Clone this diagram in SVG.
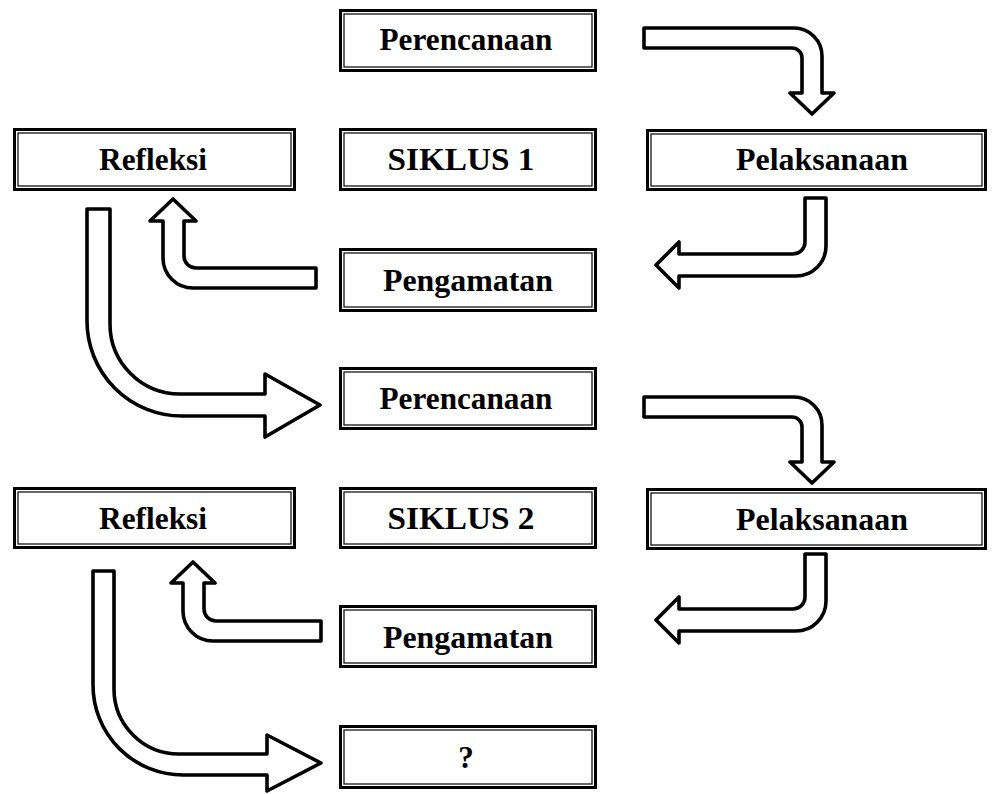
<svg xmlns="http://www.w3.org/2000/svg" width="992" height="794" viewBox="0 0 992 794">
<style>
.ob{fill:#fff;stroke:#000;stroke-width:3}
.ib{fill:none;stroke:#000;stroke-width:1.2}
.t{font-family:"Liberation Serif","Times New Roman",Times,serif;font-weight:700;font-size:31px;text-anchor:middle;fill:#000}
.arr{fill:#fff;stroke:#000;stroke-width:3.6;stroke-linejoin:round}
</style>
<rect width="992" height="794" fill="#fff"/>
<g id="connectors">
<path class="arr" d="M644,28 H794 A28,28 0 0 1 822,56 V93 H834 L812,114 L790,93 H802 V58 A10,10 0 0 0 792,48 H644 Z"/>
<path class="arr" d="M805,198 H826 V246 A30,30 0 0 1 796,276 H679 V288 L656,265 L679,242 V254 H793 A12,12 0 0 0 805,242 Z"/>
<path class="arr" d="M316,268 V288 H193 A30,30 0 0 1 163,258 V221 H150 L173,199 L196,221 H184 V256 A12,12 0 0 0 196,268 Z"/>
<path class="arr" d="M87,209 H110 V324 A70,70 0 0 0 180,394 H265 V374 L320,405 L265,437 V416 H182 A95,95 0 0 1 87,321 Z"/>
<path class="arr" d="M644,397 H794 A28,28 0 0 1 822,425 V462 H834 L812,483 L790,462 H802 V427 A10,10 0 0 0 792,417 H644 Z"/>
<path class="arr" d="M805,554 H826 V601 A30,30 0 0 1 796,631 H679 V643 L656,620 L679,597 V609 H793 A12,12 0 0 0 805,597 Z"/>
<path class="arr" d="M321,621 V641 H213 A30,30 0 0 1 183,611 V583 H171 L193,562 L215,583 H204 V609 A12,12 0 0 0 216,621 Z"/>
<path class="arr" d="M93,571 H114 V689 A65,65 0 0 0 179,754 H267 V735 L321,763 L267,791 V775 H183 A90,90 0 0 1 93,685 Z"/>
</g>
<g id="perencanaan1">
<rect class="ob" x="340.5" y="10.5" width="255" height="60"/>
<rect class="ib" x="344" y="14" width="248" height="53"/>
<text class="t" x="466" y="50" textLength="173" lengthAdjust="spacingAndGlyphs">Perencanaan</text>
</g>
<g id="refleksi1">
<rect class="ob" x="14.5" y="129.5" width="280" height="60"/>
<rect class="ib" x="18" y="133" width="273" height="53"/>
<text class="t" x="153" y="170" textLength="108" lengthAdjust="spacingAndGlyphs">Refleksi</text>
</g>
<g id="siklus1">
<rect class="ob" x="340.5" y="129.5" width="255" height="60"/>
<rect class="ib" x="344" y="133" width="248" height="53"/>
<text class="t" x="461" y="170" textLength="147" lengthAdjust="spacingAndGlyphs">SIKLUS 1</text>
</g>
<g id="pelaksanaan1">
<rect class="ob" x="647.5" y="130.5" width="338" height="59"/>
<rect class="ib" x="651" y="134" width="331" height="52"/>
<text class="t" x="822" y="170" textLength="172" lengthAdjust="spacingAndGlyphs">Pelaksanaan</text>
</g>
<g id="pengamatan1">
<rect class="ob" x="340.5" y="249.5" width="255" height="61"/>
<rect class="ib" x="344" y="253" width="248" height="54"/>
<text class="t" x="468" y="291" textLength="170" lengthAdjust="spacingAndGlyphs">Pengamatan</text>
</g>
<g id="perencanaan2">
<rect class="ob" x="340.5" y="368.5" width="255" height="60"/>
<rect class="ib" x="344" y="372" width="248" height="53"/>
<text class="t" x="466" y="409" textLength="173" lengthAdjust="spacingAndGlyphs">Perencanaan</text>
</g>
<g id="refleksi2">
<rect class="ob" x="14.5" y="488.5" width="280" height="59"/>
<rect class="ib" x="18" y="492" width="273" height="52"/>
<text class="t" x="153" y="529" textLength="108" lengthAdjust="spacingAndGlyphs">Refleksi</text>
</g>
<g id="siklus2">
<rect class="ob" x="340.5" y="488.5" width="255" height="59"/>
<rect class="ib" x="344" y="492" width="248" height="52"/>
<text class="t" x="461" y="529" textLength="147" lengthAdjust="spacingAndGlyphs">SIKLUS 2</text>
</g>
<g id="pelaksanaan2">
<rect class="ob" x="647.5" y="489.5" width="338" height="59"/>
<rect class="ib" x="651" y="493" width="331" height="52"/>
<text class="t" x="822" y="530" textLength="172" lengthAdjust="spacingAndGlyphs">Pelaksanaan</text>
</g>
<g id="pengamatan2">
<rect class="ob" x="340.5" y="606.5" width="255" height="60"/>
<rect class="ib" x="344" y="610" width="248" height="53"/>
<text class="t" x="468" y="648" textLength="170" lengthAdjust="spacingAndGlyphs">Pengamatan</text>
</g>
<g id="question">
<rect class="ob" x="340.5" y="726.5" width="255" height="61"/>
<rect class="ib" x="344" y="730" width="248" height="54"/>
<text class="t" x="466" y="768">?</text>
</g>
</svg>
